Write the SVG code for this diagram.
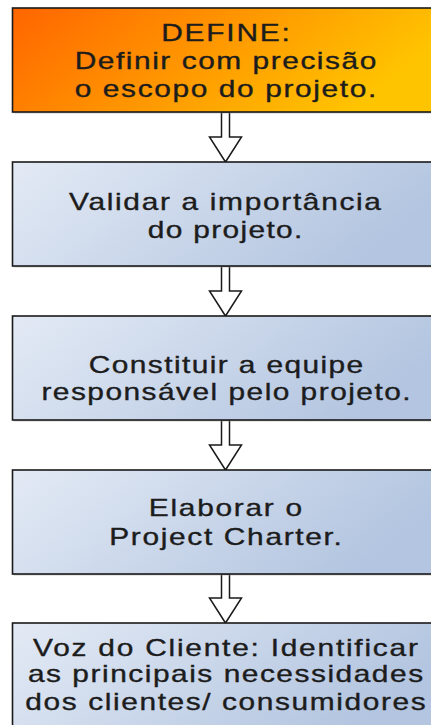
<svg xmlns="http://www.w3.org/2000/svg" width="431" height="725" viewBox="0 0 431 725">
  <style>
    .box { stroke: #1a1a1a; stroke-width: 1.6; }
    .shadow { fill: #9a9a9a; opacity: 0.5; }
    .lbl { font-family: "Liberation Sans", Arial, sans-serif; font-size: 23px; fill: #1c1c1c; stroke: #1c1c1c; stroke-width: 0.35; text-anchor: middle; }
    .arrow { fill: #ffffff; stroke: #1a1a1a; stroke-width: 1.5; stroke-linejoin: miter; }
  </style>
  <defs>
    <linearGradient id="gOrange" x1="0" y1="0" x2="1" y2="0.3">
      <stop offset="0" stop-color="#ff6500"/>
      <stop offset="0.55" stop-color="#ff9a00"/>
      <stop offset="1" stop-color="#ffc400"/>
    </linearGradient>
    <linearGradient id="gBlue" x1="0" y1="0" x2="1" y2="0.3">
      <stop offset="0" stop-color="#e3eaf5"/>
      <stop offset="1" stop-color="#b3c5e0"/>
    </linearGradient>
  </defs>

  <rect width="431" height="725" fill="#ffffff"/>

  <g id="connectors">
    <polygon class="arrow" points="221.5,112 229.5,112 229.5,137 241.5,137 225.5,162 209.5,137 221.5,137"/>
    <polygon class="arrow" points="221.5,266 229.5,266 229.5,291 241.5,291 225.5,316 209.5,291 221.5,291"/>
    <polygon class="arrow" points="221.5,420 229.5,420 229.5,445 241.5,445 225.5,470 209.5,445 221.5,445"/>
    <polygon class="arrow" points="221.5,574 229.5,574 229.5,598 241.5,598 225.5,623 209.5,598 221.5,598"/>
  </g>

  <g id="node-define">
    <rect class="shadow" x="13.5" y="9" width="430" height="104.5"/>
    <rect class="box" x="12.5" y="8" width="430" height="104" fill="url(#gOrange)"/>
    <g transform="translate(225.5 0) scale(1.3 1)">
      <text class="lbl" x="0" y="41.5" textLength="99" lengthAdjust="spacing">DEFINE:</text>
      <text class="lbl" x="0" y="69" textLength="232" lengthAdjust="spacing">Definir com precisão</text>
      <text class="lbl" x="0" y="97" textLength="232" lengthAdjust="spacing">o escopo do projeto.</text>
    </g>
  </g>

  <g id="node-validar">
    <rect class="shadow" x="13.5" y="163" width="430" height="104.5"/>
    <rect class="box" x="12.5" y="162" width="430" height="104" fill="url(#gBlue)"/>
    <g transform="translate(225 0) scale(1.3 1)">
      <text class="lbl" x="0" y="210" textLength="240" lengthAdjust="spacing">Validar a importância</text>
      <text class="lbl" x="0" y="238" textLength="119" lengthAdjust="spacing">do projeto.</text>
    </g>
  </g>

  <g id="node-constituir">
    <rect class="shadow" x="13.5" y="317" width="430" height="104.5"/>
    <rect class="box" x="12.5" y="316" width="430" height="104" fill="url(#gBlue)"/>
    <g transform="translate(226 0) scale(1.3 1)">
      <text class="lbl" x="0" y="373" textLength="211" lengthAdjust="spacing">Constituir a equipe</text>
      <text class="lbl" x="0" y="400.5" textLength="284" lengthAdjust="spacing">responsável pelo projeto.</text>
    </g>
  </g>

  <g id="node-charter">
    <rect class="shadow" x="13.5" y="471" width="430" height="104.5"/>
    <rect class="box" x="12.5" y="470" width="430" height="104" fill="url(#gBlue)"/>
    <g transform="translate(225.5 0) scale(1.3 1)">
      <text class="lbl" x="0" y="516" textLength="118" lengthAdjust="spacing">Elaborar o</text>
      <text class="lbl" x="0" y="545" textLength="179" lengthAdjust="spacing">Project Charter.</text>
    </g>
  </g>

  <g id="node-voz">
    <rect class="shadow" x="13.5" y="624" width="430" height="104.5"/>
    <rect class="box" x="12.5" y="623" width="430" height="104" fill="url(#gBlue)"/>
    <g transform="translate(225.5 0) scale(1.3 1)">
      <text class="lbl" x="0" y="656" textLength="296" lengthAdjust="spacing">Voz do Cliente: Identificar</text>
      <text class="lbl" x="0" y="682" textLength="304" lengthAdjust="spacing">as principais necessidades</text>
      <text class="lbl" x="0" y="710" textLength="308" lengthAdjust="spacing">dos clientes/ consumidores</text>
    </g>
  </g>
</svg>
